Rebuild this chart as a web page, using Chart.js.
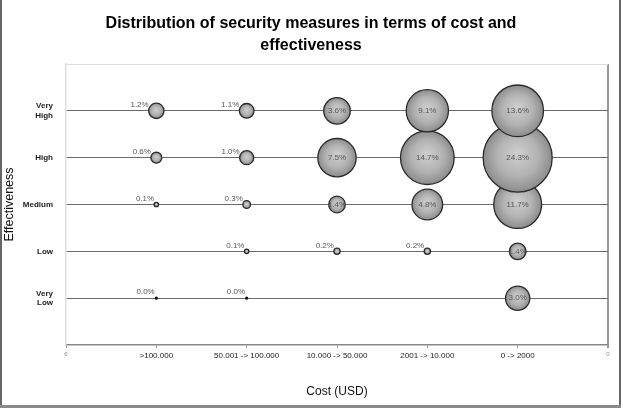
<!DOCTYPE html>
<html>
<head>
<meta charset="utf-8">
<script src="https://cdn.jsdelivr.net/npm/chart.js@4/dist/chart.umd.min.js"></script>
<style>
  html, body { margin: 0; padding: 0; background: #fff; }
  #wrap { width: 623px; height: 408px; position: relative; }
</style>
</head>
<body>
<div id="wrap"><canvas id="c" width="623" height="408"></canvas></div>
<script>
// ---- Data ----
const titleLines = ["Distribution of security measures in terms of cost and", "effectiveness"];
const costCategories = [">100.000", "50.001 -> 100.000", "10.000 -> 50.000", "2001 -> 10.000", "0 -> 2000"];
const effectivenessLevels = [["Very", "Low"], "Low", "Medium", "High", ["Very", "High"]];
// share of security measures (%) per cost category, left to right
const veryLow  = [0.0, 0.0, null, null, 3.0];
const low      = [null, 0.1, 0.2, 0.2, 1.4];
const medium   = [0.1, 0.3, 1.4, 4.8, 11.7];
const high     = [0.6, 1.0, 7.5, 14.7, 24.3];
const veryHigh = [1.2, 1.1, 3.6, 9.1, 13.6];
const rows = [veryLow, low, medium, high, veryHigh];

const nCat = costCategories.length;
const points = [];
rows.forEach((row, li) => {
  row.forEach((v, ci) => {
    if (v !== null) points.push({ x: nCat - ci, y: li + 1, v: v });
  });
});

const radiusOf = v => Math.max(1.6, 7 * Math.sqrt(v));

const titlePlugin = {
  id: 'titleAndFrame',
  beforeDraw(chart) {
    const c = chart.ctx;
    c.save();
    c.fillStyle = '#fff';
    c.fillRect(0, 0, chart.width, chart.height);
    c.restore();
  },
  afterDraw(chart) {
    const c = chart.ctx;
    c.save();
    c.fillStyle = '#000';
    c.font = 'bold 16px "Liberation Sans", Arial, sans-serif';
    c.textAlign = 'center';
    c.textBaseline = 'alphabetic';
    c.fillText(titleLines[0], 311, 28);
    c.fillText(titleLines[1], 311, 50);
    // outer frame
    c.fillStyle = '#666';
    c.fillRect(0, 0, 2, chart.height);
    c.fillRect(619, 0, 2, chart.height);
    c.fillStyle = '#8a8a8a';
    c.fillRect(0, 405, 621, 3);
    c.restore();
  }
};

const labelPlugin = {
  id: 'bubbleLabels',
  afterDatasetsDraw(chart) {
    const c = chart.ctx;
    const meta = chart.getDatasetMeta(0);
    c.save();
    c.font = '8px "Liberation Sans", Arial, sans-serif';
    c.fillStyle = '#555';
    c.textBaseline = 'middle';
    meta.data.forEach((el, i) => {
      const p = points[i];
      const txt = p.v.toFixed(1) + '%';
      const r = el.options.radius;
      if (p.v >= 1.4) {
        c.textAlign = 'center';
        c.fillText(txt, el.x, el.y);
      } else {
        c.textAlign = 'right';
        c.fillText(txt, el.x - r, el.y - 6);
      }
    });
    c.restore();
  }
};

new Chart(document.getElementById('c'), {
  type: 'bubble',
  data: {
    datasets: [{
      data: points,
      radius: ctx => radiusOf(ctx.raw ? ctx.raw.v : 0),
      backgroundColor: ctx => {
        if (ctx.type !== 'data' || !ctx.raw) return '#aaa';
        if (ctx.raw.v < 0.05) return '#111';
        const ch = ctx.chart;
        const xs = ch.scales.x, ys = ch.scales.y;
        if (!xs || !ys) return '#aaa';
        const cx = xs.getPixelForValue(ctx.raw.x);
        const cy = ys.getPixelForValue(ctx.raw.y);
        const r = radiusOf(ctx.raw.v);
        if (!isFinite(cx) || !isFinite(cy)) return '#aaa';
        const g = ch.ctx.createRadialGradient(cx, cy - r * 0.15, 0, cx, cy, r);
        g.addColorStop(0, '#cfcfcf');
        g.addColorStop(0.6, '#b2b2b2');
        g.addColorStop(1, '#8c8c8c');
        return g;
      },
      borderColor: '#2a2a2a',
      borderWidth: ctx => (ctx.raw && ctx.raw.v < 0.05) ? 0 : 1.3,
      clip: false
    }]
  },
  options: {
    responsive: false,
    animation: false,
    events: [],
    layout: { autoPadding: false, padding: { top: 64, left: 2, right: 15, bottom: 4 } },
    plugins: {
      legend: { display: false },
      title: { display: false },
      tooltip: { enabled: false }
    },
    scales: {
      x: {
        type: 'linear',
        reverse: true,
        min: 0, max: nCat + 1,
        afterFit: s => { s.height = 59; s.paddingLeft = 0; s.paddingRight = 0; },
        ticks: {
          stepSize: 1,
          autoSkip: false,
          maxRotation: 0,
          padding: 3,
          color: ctx => (ctx.tick.value >= 1 && ctx.tick.value <= nCat) ? '#222' : '#888',
          font: ctx => (ctx.tick && ctx.tick.value >= 1 && ctx.tick.value <= nCat)
            ? { family: '"Liberation Sans", Arial, sans-serif', size: 8 }
            : { family: '"Liberation Sans", Arial, sans-serif', size: 6 },
          callback: v => (v >= 1 && v <= nCat) ? costCategories[nCat - v] : String(v)
        },
        grid: {
          drawTicks: true,
          tickLength: 3,
          tickColor: '#999',
          color: ctx => ctx.tick && ctx.tick.value === 0 ? '#999' : 'rgba(0,0,0,0)',
          lineWidth: ctx => ctx.tick && ctx.tick.value === 0 ? 2 : 1
        },
        border: { color: '#888', width: 1.5 },
        title: {
          display: true,
          text: 'Cost (USD)',
          color: '#111',
          font: { family: '"Liberation Sans", Arial, sans-serif', size: 12 },
          padding: { top: 0, bottom: 5 }
        }
      },
      y: {
        type: 'linear',
        min: 0, max: effectivenessLevels.length + 1,
        afterFit: s => { s.width = 64; },
        ticks: {
          stepSize: 1,
          autoSkip: false,
          padding: 13,
          color: '#222',
          font: { family: '"Liberation Sans", Arial, sans-serif', size: 8, weight: 'bold', lineHeight: 1.2 },
          callback: v => (v >= 1 && v <= effectivenessLevels.length) ? effectivenessLevels[v - 1] : ''
        },
        grid: {
          drawTicks: false,
          color: ctx => {
            const v = ctx.tick ? ctx.tick.value : -1;
            if (v >= 1 && v <= effectivenessLevels.length) return '#6a6a6a';
            if (v === effectivenessLevels.length + 1) return '#dddddd';
            return 'rgba(0,0,0,0)';
          },
          lineWidth: 1
        },
        border: { color: '#dddddd', width: 1.5 },
        title: {
          display: true,
          text: 'Effectiveness',
          color: '#111',
          font: { family: '"Liberation Sans", Arial, sans-serif', size: 12.5 },
          padding: { top: 0.5, bottom: 0 }
        }
      }
    }
  },
  plugins: [titlePlugin, labelPlugin]
});
</script>
</body>
</html>
